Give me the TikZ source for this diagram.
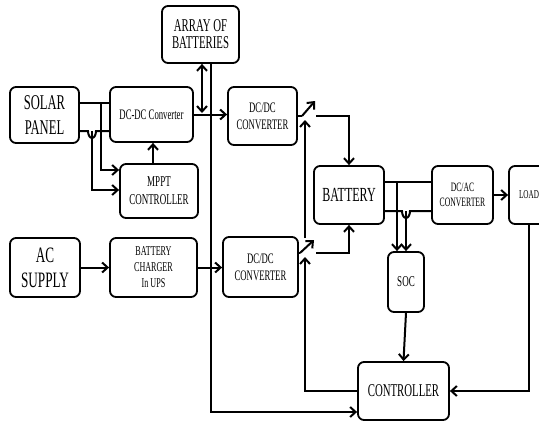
\documentclass[tikz,border=0pt]{standalone}
\usepackage{fontspec}
\setmainfont{Liberation Serif}[FakeStretch=0.6]
\usetikzlibrary{arrows.meta}
\newcommand\myfs[2]{\fontsize{#1}{#2}\selectfont}
\begin{document}
\begin{tikzpicture}[x=1pt,y=-1pt,
  box/.style={draw, line width=1.8pt, rounded corners=6pt, align=center, inner sep=0pt},
  conn/.style={line width=2pt},
  arr/.style={conn, -{Straight Barb[length=5.5pt,width=10pt]}},
  darr/.style={conn, {Straight Barb[length=5.5pt,width=10pt]}-{Straight Barb[length=5.5pt,width=10pt]}}]
\clip (0,0) rectangle (539,421);
\fill[white] (0,0) rectangle (539,421);
% nodes
\node[box, minimum width=77pt, minimum height=57pt, font=\myfs{18}{17}] (arr) at (200.5,34.5) {ARRAY OF\\BATTERIES};
\node[box, minimum width=69pt, minimum height=56pt, font=\myfs{21}{25}] (solar) at (44.5,115) {SOLAR\\PANEL};
\node[box, minimum width=83pt, minimum height=55pt, font=\myfs{14.5}{17}] (dcdc1) at (151.5,114.5) {DC-DC Converter};
\node[box, minimum width=69pt, minimum height=58pt, font=\myfs{14.5}{17}] (dcdc2) at (262.5,116) {DC/DC\\CONVERTER};
\node[box, minimum width=78pt, minimum height=54pt, font=\myfs{15}{18}] (mppt) at (159,191) {MPPT\\CONTROLLER};
\node[box, minimum width=70pt, minimum height=59pt, font=\myfs{22}{25}] (ac) at (45,267.5) {AC\\SUPPLY};
\node[box, minimum width=87pt, minimum height=59pt, font=\myfs{13.5}{16}] (charger) at (153.5,267.5) {BATTERY\\CHARGER\\In UPS};
\node[box, minimum width=75pt, minimum height=60pt, font=\myfs{14.5}{17}] (dcdc3) at (260.5,267) {DC/DC\\CONVERTER};
\node[box, minimum width=70pt, minimum height=58pt, font=\myfs{20}{20}] (battery) at (349,195) {BATTERY};
\node[box, minimum width=61pt, minimum height=58pt, font=\myfs{12.8}{15}] (dcac) at (462.5,195) {DC/AC\\CONVERTER};
\node[box, minimum width=40pt, minimum height=58pt, font=\myfs{12}{14}] (load) at (529,195) {LOAD};
\node[box, minimum width=36pt, minimum height=60pt, font=\myfs{15}{16}] (soc) at (406,282) {SOC};
\node[box, minimum width=91pt, minimum height=58pt, font=\myfs{18}{18}] (ctrl) at (403.5,391) {CONTROLLER};
% switch coordinates
\coordinate (sw1a) at (302,116);
\coordinate (sw1b) at (315,101);
\coordinate (sw1c) at (316,116);
\coordinate (sw2a) at (300,253);
\coordinate (sw2b) at (314,240);
\coordinate (sw2c) at (316,253);
\coordinate (cl1) at (305,257);
\coordinate (cl2) at (305,238);
\coordinate (cl3) at (305,120);
% solar panel outputs
\draw[conn] (solar.east |- 0,103) -- (dcdc1.west |- 0,103);
\draw[conn] (solar.east |- 0,131) -- (88,131) arc[start angle=180,end angle=0,x radius=4,y radius=7] -- (dcdc1.west |- 0,131);
\draw[arr] (101,103) |- (mppt.west |- 0,170);
\draw[arr] (92,131) |- (mppt.west |- 0,190);
\draw[arr] ([xshift=-6pt]mppt.north) -- ([xshift=-6pt]mppt.north |- dcdc1.south);
% DC-DC to DC/DC and array
\draw[arr] (dcdc1.east) -- (dcdc2.west |- dcdc1.east);
\draw[darr] ([xshift=1.5pt]arr.south) -- ([xshift=1.5pt]arr.south |- 0,113);
\draw[arr] ([xshift=10.5pt]arr.south) |- ([yshift=-21pt]ctrl.west);
% AC path
\draw[arr] (ac.east) -- (charger.west);
\draw[arr] (charger.east) -- (dcdc3.west |- charger.east);
% switches
\draw[conn] (dcdc2.east) -- (sw1a);
\draw[arr] (sw1a) -- (sw1b);
\draw[arr] (sw1c) -| (battery.north);
\draw[conn] (dcdc3.east |- sw2a) -- (sw2a);
\draw[arr] (sw2a) -- (sw2b);
\draw[arr] (sw2c) -| (battery.south);
\draw[arr] (ctrl.west) -| (cl1);
\draw[arr] (cl2) -- (cl3);
% battery outputs
\draw[conn] (battery.east |- 0,182) -- (dcac.west |- 0,182);
\draw[conn] (battery.east |- 0,211) -- (402,211) arc[start angle=180,end angle=0,x radius=4,y radius=7] -- (dcac.west |- 0,211);
\draw[arr] ([xshift=-9pt]soc.north |- 0,182) -- ([xshift=-9pt]soc.north);
\draw[arr] (soc.north |- 0,211) -- (soc.north);
\draw[arr] (dcac.east) -- (load.west);
\draw[arr] (load.south) |- (ctrl.east);
\draw[arr] (soc.south) -- (ctrl.north);
\end{tikzpicture}
\end{document}
